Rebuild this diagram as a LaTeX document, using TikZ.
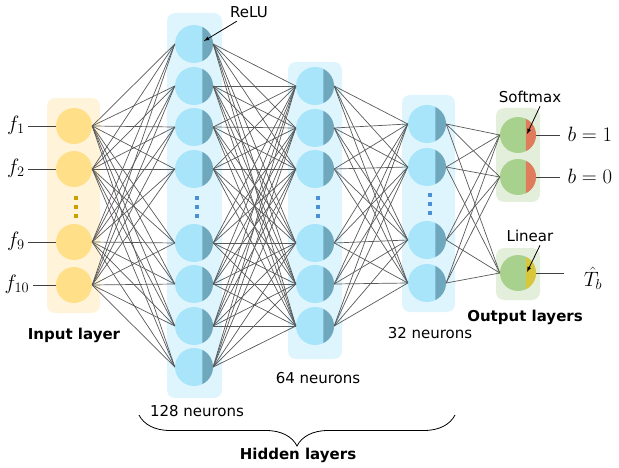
\documentclass[tikz,border=0pt]{standalone}
\usepackage{fontspec}
\setmainfont{DejaVu Sans}
\usepackage{amsmath}
\usetikzlibrary{
    decorations.pathreplacing,
    arrows,
    calc,
    positioning
}
\definecolor{inboxc}{HTML}{FFF4DA}
\definecolor{incell}{HTML}{FFDF88}
\definecolor{indots}{HTML}{C9A000}
\definecolor{hidboxc}{HTML}{DFF5FD}
\definecolor{hidcell}{HTML}{A8E4FA}
\definecolor{hidpart}{HTML}{6FA8BC}
\definecolor{hiddots}{HTML}{4A90D9}
\definecolor{outboxc}{HTML}{E3EFDA}
\definecolor{outcell}{HTML}{A9D18E}
\definecolor{softc}{HTML}{E07B5B}
\definecolor{linc}{HTML}{D9C63C}
\definecolor{linkc}{HTML}{595959}
\tikzset{
    cell/.style={circle, inner sep=0pt, draw=none},
    link/.style={draw=linkc, line width=0.7pt},
    iolink/.style={draw=black!75, line width=0.9pt},
    lbl/.style={font=\fontsize{15}{18}\selectfont},
    boldlbl/.style={font=\fontsize{15}{18}\selectfont\bfseries},
    mathlbl/.style={font=\fontsize{22}{26}\selectfont},
    layerbox/.style={rounded corners=8pt}
}
\newcommand{\neuron}[5]{
    \node[cell, minimum size={2*#3pt}, fill=#4] (#1) at (#2) {};
    \fill[#5] ($(#1.center) + (64:#3pt)$) arc (64:-64:#3pt) -- cycle;
}
\newcommand{\layerdots}[3]{
    \foreach \d in {-9, 0, 9}
        \fill[#3] ($(#1, #2) + (0, \d)$) +(-2, -2) rectangle +(2, 2);
}

\begin{document}
\begin{tikzpicture}[x=1pt, y=-1pt]
    \useasboundingbox (0, 0) rectangle (619, 468);
    % layer boxes
    \fill[inboxc, layerbox] (47, 98) rectangle (100, 313);
    \fill[hidboxc, layerbox] (167, 13) rectangle (222, 398);
    \fill[hidboxc, layerbox] (288, 62) rectangle (342, 359);
    \fill[hidboxc, layerbox] (402, 95) rectangle (455, 312);
    \fill[outboxc, layerbox] (496, 108) rectangle (540, 202);
    \fill[outboxc, layerbox] (496, 248) rectangle (540, 300);
    % input layer
    \begin{scope}[shift={(74, 0)}]
        \node[cell, minimum size=36pt, fill=incell] (in1) at (0, 126) {};
        \node[cell, minimum size=36pt, fill=incell] (in2) at (0, 169) {};
        \node[cell, minimum size=36pt, fill=incell] (in3) at (0, 242) {};
        \node[cell, minimum size=36pt, fill=incell] (in4) at (0, 285) {};
        \layerdots{2}{207}{indots}
    \end{scope}
    % hidden layers
    \begin{scope}[shift={(194, 0)}]
        \neuron{hA1}{0, 44}{19}{hidcell}{hidpart}
        \neuron{hA2}{0, 86}{19}{hidcell}{hidpart}
        \neuron{hA3}{0, 127}{19}{hidcell}{hidpart}
        \neuron{hA4}{0, 169}{19}{hidcell}{hidpart}
        \neuron{hA5}{0, 243}{19}{hidcell}{hidpart}
        \neuron{hA6}{0, 284}{19}{hidcell}{hidpart}
        \neuron{hA7}{0, 326}{19}{hidcell}{hidpart}
        \neuron{hA8}{0, 367}{19}{hidcell}{hidpart}
        \layerdots{3}{207}{hiddots}
    \end{scope}
    \begin{scope}[shift={(315, 0)}]
        \neuron{hB1}{0, 86}{19}{hidcell}{hidpart}
        \neuron{hB2}{0, 128}{19}{hidcell}{hidpart}
        \neuron{hB3}{0, 169}{19}{hidcell}{hidpart}
        \neuron{hB4}{0, 243}{19}{hidcell}{hidpart}
        \neuron{hB5}{0, 284}{19}{hidcell}{hidpart}
        \neuron{hB6}{0, 326}{19}{hidcell}{hidpart}
        \layerdots{3}{207}{hiddots}
    \end{scope}
    \begin{scope}[shift={(427, 0)}]
        \neuron{hC1}{0, 124}{19}{hidcell}{hidpart}
        \neuron{hC2}{0, 167}{19}{hidcell}{hidpart}
        \neuron{hC3}{0, 240}{19}{hidcell}{hidpart}
        \neuron{hC4}{0, 283}{19}{hidcell}{hidpart}
        \layerdots{3}{204}{hiddots}
    \end{scope}
    % output layers
    \begin{scope}[shift={(518, 0)}]
        \neuron{out1}{0, 135}{18}{outcell}{softc}
        \neuron{out2}{0, 177}{18}{outcell}{softc}
        \neuron{out3}{0, 273}{18}{outcell}{linc}
    \end{scope}
    % connections
    \foreach \i in {1, ..., 4}
        \foreach \j in {1, ..., 8}
            \draw[link] (in\i.east) -- (hA\j.west);
    \foreach \i in {1, ..., 8}
        \foreach \j in {1, ..., 6}
            \draw[link] (hA\i.east) -- (hB\j.west);
    \foreach \i in {1, ..., 6}
        \foreach \j in {1, ..., 4}
            \draw[link] (hB\i.east) -- (hC\j.west);
    \foreach \i in {1, ..., 4}
        \foreach \j in {1, ..., 3}
            \draw[link] (hC\i.east) -- (out\j.west);
    % inputs and outputs
    \node[mathlbl] (f1) at (16, 125) {$f_1$};
    \node[mathlbl] (f2) at (16, 168) {$f_2$};
    \node[mathlbl] (f9) at (16, 241) {$f_9$};
    \node[mathlbl] (f10) at (17, 284) {$f_{10}$};
    \draw[iolink]
    (in1.west -| f1.east) -- (in1.west) (in2.west -| f2.east) -- (in2.west)
    (in3.west -| f9.east) -- (in3.west) (in4.west -| f10.east) -- (in4.west);
    \node[mathlbl, anchor=west] (b1) at (564, 134) {$b = 1$};
    \node[mathlbl, anchor=west] (b0) at (564, 176) {$b = 0$};
    \node[mathlbl] (tb) at (593, 278) {$\hat{T}_b$};
    \draw[iolink]
    (out1.east) -- ([xshift=-4pt]out1.east -| b1.west)
    (out2.east) -- ([xshift=-4pt]out2.east -| b0.west)
    (out3.east) -- ([xshift=-16pt]out3.east -| tb.west);
    % activation labels
    \node[lbl] (relu) at (249, 12) {ReLU};
    \node[lbl] (softmax) at (530, 97) {Softmax};
    \node[lbl] (linear) at (530, 236) {Linear};
    \coordinate (relutip) at (204, 41);
    \coordinate (softtip) at (527, 134);
    \coordinate (lintip) at (527, 272);
    \draw[-latex, line width=0.8pt] ([xshift=-12pt]relu.south) -- (relutip);
    \draw[-latex, line width=0.8pt] ([xshift=10pt]softmax.south) -- (softtip);
    \draw[-latex, line width=0.8pt] ([xshift=10pt]linear.south) -- (lintip);
    % layer captions
    \node[boldlbl] (inlbl) at (74, 335) {Input layer};
    \node[boldlbl] (outlbl) at (525, 317) {Output layers};
    \node[lbl] (n32) at (430, 333) {32 neurons};
    \node[lbl] (n64) at (318, 378) {64 neurons};
    \node[lbl] (n128) at (197, 411) {128 neurons};
    \coordinate (braceL) at (139, 415);
    \coordinate (braceR) at (455, 415);
    \draw[decorate, decoration={brace, mirror, amplitude=31pt}, line width=0.8pt]
    (braceL) -- (braceR);
    \node[boldlbl] (hidlbl) at (298, 455) {Hidden layers};
\end{tikzpicture}
\end{document}
